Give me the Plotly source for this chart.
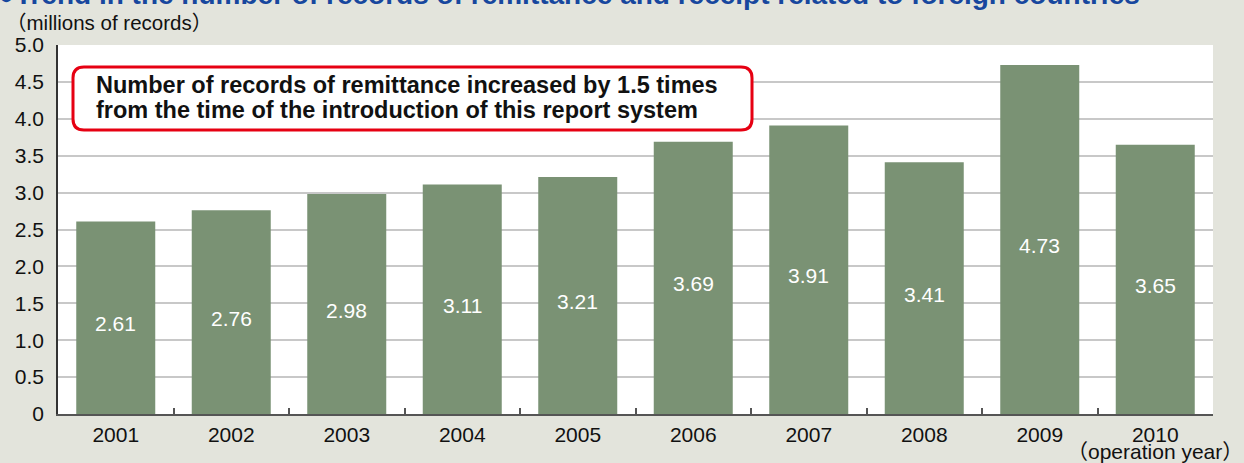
import plotly.graph_objects as go

years = ["2001", "2002", "2003", "2004", "2005", "2006", "2007", "2008", "2009", "2010"]
records = [2.61, 2.76, 2.98, 3.11, 3.21, 3.69, 3.91, 3.41, 4.73, 3.65]
labels = ["2.61", "2.76", "2.98", "3.11", "3.21", "3.69", "3.91", "3.41", "4.73", "3.65"]
y_ticks = [0, 0.5, 1.0, 1.5, 2.0, 2.5, 3.0, 3.5, 4.0, 4.5, 5.0]
y_ticktext = ["0", "0.5", "1.0", "1.5", "2.0", "2.5", "3.0", "3.5", "4.0", "4.5", "5.0"]

title = "●Trend in the number of records of remittance and receipt related to foreign countries"
unit = "（millions of records）"
xunit = "（operation year）"
callout_lines = ["Number of records of remittance increased by 1.5 times",
                 "from the time of the introduction of this report system"]

FONT = "Liberation Sans, Arial, Noto Sans CJK JP, sans-serif"
W, H = 1244, 463
L, R, T, B = 58, 31, 45, 49
pw, ph = W - L - R, H - T - B

def px2paper(x, y):
    return (x - L) / pw, (H - B - y) / ph

fig = go.Figure()
fig.add_trace(go.Bar(
    x=years, y=records,
    marker=dict(color="#7a9274", line=dict(width=0)),
    hoverinfo="skip",
))
# value labels inside bars, slightly below the bar middle (category index positions)
for i, (v, lab) in enumerate(zip(records, labels)):
    fig.add_annotation(x=i, y=v / 2, xref="x", yref="y", text=lab, showarrow=False,
                       yshift=-6, xanchor="center", yanchor="middle",
                       font=dict(color="white", size=21, family=FONT))

# rounded rectangle callout
x0, y0, x1, y1, r = 73, 67, 752, 130, 11
def P(x, y):
    a, b = px2paper(x, y)
    return f"{a:.5f},{b:.5f}"
path = (f"M {P(x0+r,y0)} L {P(x1-r,y0)} Q {P(x1,y0)} {P(x1,y0+r)} "
        f"L {P(x1,y1-r)} Q {P(x1,y1)} {P(x1-r,y1)} L {P(x0+r,y1)} "
        f"Q {P(x0,y1)} {P(x0,y1-r)} L {P(x0,y0+r)} Q {P(x0,y0)} {P(x0+r,y0)} Z")
fig.add_shape(type="path", path=path, xref="paper", yref="paper",
              fillcolor="white", line=dict(color="#e60012", width=3), layer="above")

for line, ypx in zip(callout_lines, [85, 110]):
    ax, ay = px2paper(94, ypx)
    fig.add_annotation(text=f"<b>{line}</b>", xref="paper", yref="paper", x=ax, y=ay,
                       xanchor="left", yanchor="middle", align="left", showarrow=False,
                       font=dict(size=23.5, color="#111", family=FONT))

# title (clipped at top)
tx, ty = px2paper(-4, -5)
fig.add_annotation(text=f"<b>{title}</b>", xref="paper", yref="paper",
                   x=tx, y=ty, xanchor="left", yanchor="middle",
                   showarrow=False, font=dict(size=28, color="#17479e", family=FONT))
ux, uy = px2paper(4, 23)
fig.add_annotation(text=unit, xref="paper", yref="paper",
                   x=ux, y=uy, xanchor="left", yanchor="middle",
                   showarrow=False, font=dict(size=20.5, color="#111", family=FONT))
ox, oy = px2paper(1245, 451)
fig.add_annotation(text=xunit, xref="paper", yref="paper",
                   x=ox, y=oy, xanchor="right", yanchor="middle",
                   showarrow=False, font=dict(size=21, color="#111", family=FONT))

fig.update_layout(
    width=W, height=H, margin=dict(l=L, r=R, t=T, b=B),
    paper_bgcolor="#e3e4dc", plot_bgcolor="white",
    bargap=0.316, showlegend=False,
    font=dict(family=FONT, size=21, color="#111"),
)
fig.update_xaxes(type="category", range=[-0.5, len(years) - 0.5],
                 showline=True, linecolor="#555", linewidth=2,
                 ticks="inside", tickson="boundaries", ticklen=6, tickcolor="#555",
                 tickwidth=1.5, showgrid=False, tickfont=dict(size=21, color="#111"),
                 ticklabelstandoff=1)
fig.update_yaxes(range=[0, 5.0], tickvals=y_ticks, ticktext=y_ticktext,
                 showline=True, linecolor="#333", linewidth=1.5,
                 showgrid=True, gridcolor="#c8c8c8", gridwidth=1.5,
                 ticks="", tickfont=dict(size=21, color="#111"), ticklabelstandoff=8,
                 zeroline=False)

fig.write_html("out.html")
